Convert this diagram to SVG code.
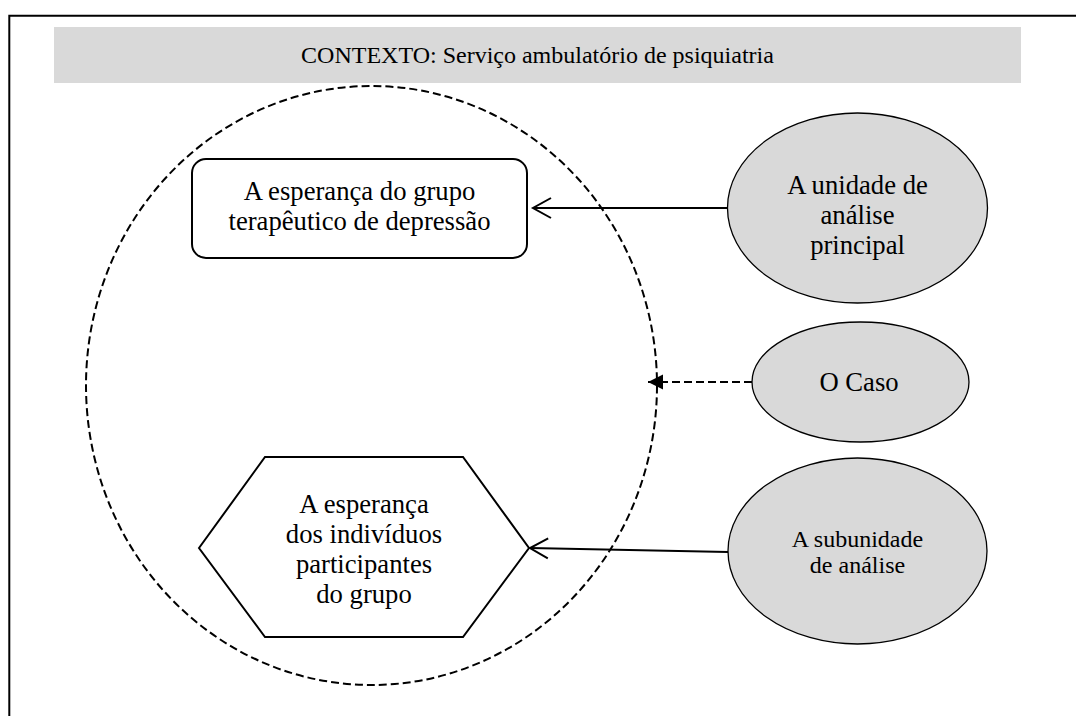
<svg xmlns="http://www.w3.org/2000/svg" width="1076" height="716" viewBox="0 0 1076 716">
  <style>
    .txt { font-family: "Liberation Serif", "Times New Roman", serif; fill: #000; text-anchor: middle; }
    .t26 { font-size: 26.67px; }
    .t24 { font-size: 24px; }
    .gray { fill: #d9d9d9; stroke: #000; stroke-width: 1.3; }
    .shape { fill: #fff; stroke: #000; stroke-width: 2; }
    .conn { fill: none; stroke: #000; stroke-width: 2; }
    .dash { fill: none; stroke: #000; stroke-width: 2; stroke-dasharray: 8 4; }
  </style>
  <defs>
    <marker id="open" markerUnits="userSpaceOnUse" markerWidth="24" markerHeight="24" refX="20" refY="12" orient="auto">
      <path d="M2,2 L20,12 L2,22" fill="none" stroke="#000" stroke-width="2"/>
    </marker>
    <marker id="filled" markerUnits="userSpaceOnUse" markerWidth="16" markerHeight="16" refX="15" refY="7.5" orient="auto">
      <path d="M0,0 L15,7.5 L0,15 z" fill="#000"/>
    </marker>
  </defs>
  <rect width="1076" height="716" fill="#fff"/>
  <g id="frame">
    <path d="M9.3,716 L9.3,15.7 L1076,15.7" fill="none" stroke="#000" stroke-width="2"/>
  </g>
  <g id="context">
    <rect x="54" y="27" width="967" height="56" fill="#d9d9d9"/>
    <text class="txt t24" x="537.5" y="63">CONTEXTO: Serviço ambulatório de psiquiatria</text>
  </g>
  <g id="case-boundary">
    <ellipse cx="371.5" cy="385.5" rx="285.5" ry="299.5" class="dash"/>
  </g>
  <g id="group-hope">
    <rect x="192" y="159" width="335" height="99" rx="14" ry="14" class="shape"/>
    <text class="txt t26" x="359.5" y="200">A esperança do grupo</text>
    <text class="txt t26" x="359.5" y="230">terapêutico de depressão</text>
  </g>
  <g id="individual-hope">
    <polygon points="199,548 265,457 463,457 529,548 463,637 265,637" class="shape"/>
    <text class="txt t26" x="364" y="513">A esperança</text>
    <text class="txt t26" x="364" y="543">dos indivíduos</text>
    <text class="txt t26" x="364" y="573">participantes</text>
    <text class="txt t26" x="364" y="603">do grupo</text>
  </g>
  <g id="main-unit">
    <ellipse cx="857.5" cy="208" rx="130" ry="95" class="gray"/>
    <text class="txt t26" x="857.5" y="194">A unidade de</text>
    <text class="txt t26" x="857.5" y="224">análise</text>
    <text class="txt t26" x="857.5" y="254">principal</text>
  </g>
  <g id="case">
    <ellipse cx="860.5" cy="382" rx="108.5" ry="60" class="gray"/>
    <text class="txt t26" x="859" y="391">O Caso</text>
  </g>
  <g id="subunit">
    <ellipse cx="857.5" cy="551" rx="129.5" ry="93" class="gray"/>
    <text class="txt t24" x="857.5" y="547">A subunidade</text>
    <text class="txt t24" x="857.5" y="573">de análise</text>
  </g>
  <g id="connectors">
    <line x1="727" y1="208" x2="533" y2="208" class="conn" marker-end="url(#open)"/>
    <line x1="752" y1="382" x2="648" y2="382" class="dash" marker-end="url(#filled)"/>
    <line x1="728" y1="552" x2="530" y2="548" class="conn" marker-end="url(#open)"/>
  </g>
</svg>
